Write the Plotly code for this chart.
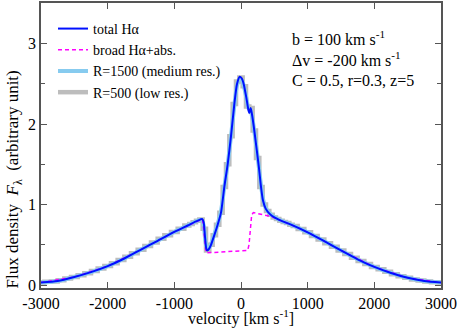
import plotly.graph_objects as go

# ---- data ----
vel_total = [-3000, -2750, -2500, -2250, -2000, -1750, -1500, -1250, -1000, -800, -650, -580,
             -560, -540, -520, -505, -480, -450, -400, -350, -300, -250, -200, -150, -100,
             -60, -20, 10, 40, 80, 110, 125, 145, 165, 190, 230, 270, 300, 330, 370, 430,
             500, 600, 750, 1000, 1250, 1500, 1750, 2000, 2250, 2500, 2750, 3000]
flux_total = [0.03, 0.05, 0.10, 0.16, 0.235, 0.33, 0.44, 0.55, 0.66, 0.74, 0.80, 0.82,
              0.78, 0.60, 0.45, 0.43, 0.45, 0.50, 0.62, 0.75, 0.90, 1.22, 1.50, 1.85, 2.25,
              2.50, 2.59, 2.57, 2.50, 2.33, 2.18, 2.14, 2.20, 2.12, 1.98, 1.72, 1.45, 1.22, 1.05,
              0.95, 0.885, 0.84, 0.80, 0.75, 0.655, 0.545, 0.43, 0.32, 0.225, 0.15, 0.09, 0.05, 0.03]

vel_broad = [-3000, -2500, -2000, -1500, -1000, -800, -650, -580, -560, -540, -525, -300, -100,
             100, 120, 140, 160, 185, 250, 350, 460, 600, 750, 1000, 1500, 2000, 2500, 3000]
flux_broad = [0.03, 0.10, 0.235, 0.44, 0.66, 0.74, 0.80, 0.82, 0.70, 0.50, 0.40, 0.41, 0.42,
              0.43, 0.50, 0.75, 0.87, 0.90, 0.89, 0.87, 0.85, 0.80, 0.75, 0.655, 0.43, 0.225, 0.09, 0.03]

vel_r1500 = [-3000, -2750, -2500, -2250, -2000, -1750, -1500, -1250, -1000, -800, -650, -590,
             -560, -530, -505, -480, -450, -400, -350, -300, -250, -200, -150, -100,
             -60, -20, 10, 40, 80, 110, 140, 165, 190, 230, 270, 300, 330, 370, 430,
             500, 600, 750, 1000, 1250, 1500, 1750, 2000, 2250, 2500, 2750, 3000]
flux_r1500 = [0.03, 0.05, 0.10, 0.16, 0.235, 0.33, 0.44, 0.55, 0.66, 0.74, 0.80, 0.81,
              0.74, 0.52, 0.45, 0.46, 0.51, 0.63, 0.76, 0.92, 1.22, 1.50, 1.85, 2.23,
              2.48, 2.56, 2.55, 2.48, 2.33, 2.20, 2.18, 2.10, 1.97, 1.72, 1.45, 1.24, 1.07,
              0.96, 0.89, 0.845, 0.80, 0.75, 0.655, 0.545, 0.43, 0.32, 0.225, 0.15, 0.09, 0.05, 0.03]

vel_r500 = [-3000, -2900, -2800, -2700, -2600, -2500, -2400, -2300, -2200, -2100, -2000,
            -1900, -1800, -1700, -1600, -1500, -1400, -1300, -1200, -1100, -1000, -900,
            -800, -750, -700, -650, -600, -550, -500, -450, -400, -350, -300, -250, -200,
            -150, -100, -50, 0, 50, 100, 150, 200, 250, 300, 350, 400, 450, 500, 550, 600,
            650, 700, 750, 800,
            900, 1000, 1100, 1200, 1300, 1400, 1500, 1600, 1700, 1800, 1900, 2000,
            2100, 2200, 2300, 2400, 2500, 2600, 2700, 2800, 2900, 3000]
flux_r500 = [0.03, 0.04, 0.045, 0.06, 0.08, 0.10, 0.12, 0.145, 0.175, 0.205, 0.235,
             0.27, 0.31, 0.35, 0.395, 0.44, 0.485, 0.53, 0.575, 0.62, 0.66, 0.70,
             0.74, 0.76, 0.78, 0.80, 0.815, 0.70, 0.43, 0.50, 0.62, 0.75, 0.90, 1.22, 1.50,
             1.85, 2.25, 2.53, 2.58, 2.47, 2.22, 2.20, 1.92, 1.58, 1.22, 1.00, 0.92, 0.875, 0.84, 0.82, 0.80,
             0.785, 0.77, 0.75, 0.735,
             0.695, 0.655, 0.61, 0.565, 0.52, 0.475, 0.43, 0.385, 0.34, 0.30, 0.26, 0.225,
             0.195, 0.165, 0.135, 0.11, 0.09, 0.07, 0.055, 0.045, 0.035, 0.03]

x_ticks = [-3000, -2000, -1000, 0, 1000, 2000, 3000]
y_ticks = [0, 1, 2, 3]

FONT = "Liberation Serif, DejaVu Serif, Times New Roman, serif"

fig = go.Figure()
fig.add_trace(go.Scatter(x=vel_r500, y=flux_r500, mode="lines", line_shape="hvh",
                         line=dict(color="#bdbdbd", width=4.5),
                         name="R=500 (low res.)", legendrank=4))
fig.add_trace(go.Scatter(x=vel_r1500, y=flux_r1500, mode="lines", line_shape="spline",
                         line=dict(color="#87cbef", width=4, smoothing=0.6),
                         name="R=1500 (medium res.)", legendrank=3))
fig.add_trace(go.Scatter(x=vel_broad, y=flux_broad, mode="lines",
                         line=dict(color="#ff00ff", width=1.5, dash="4px,3px"),
                         name="broad Hα+abs.", legendrank=2))
fig.add_trace(go.Scatter(x=vel_total, y=flux_total, mode="lines", line_shape="spline",
                         line=dict(color="#0010ff", width=2, smoothing=0.6),
                         name="total Hα", legendrank=1))

axis_common = dict(
    showgrid=False, zeroline=False, showline=True, linecolor="#555555", linewidth=1.5,
    mirror="ticks", ticks="inside", ticklen=6, tickwidth=1, tickcolor="#555555",
    tickfont=dict(family=FONT, size=16, color="black"),
)

fig.update_xaxes(range=[-3000, 3000], tickvals=x_ticks,
                 ticktext=[str(v) for v in x_ticks],
                 title=dict(text="velocity [km s<sup>-1</sup>]",
                            font=dict(family=FONT, size=16, color="black"), standoff=3),
                 **axis_common)
fig.update_yaxes(range=[-0.037, 3.506], tickvals=y_ticks,
                 minor=dict(tickvals=[0.5, 1.5, 2.5, 3.5], ticks="inside", ticklen=4,
                            tickcolor="#555555"),
                 **axis_common)

fig.add_annotation(xref="paper", yref="paper", x=-0.068, y=0.38,
                   text="Flux density  <i>F</i><sub>λ</sub>  (arbitrary unit)",
                   textangle=-90, showarrow=False, xanchor="center", yanchor="middle",
                   font=dict(family=FONT, size=17, color="black"))

fig.add_annotation(xref="paper", yref="paper", x=(290 - 41) / 400, y=1 - (24 - 1) / 287,
                   text="b = 100 km s<sup>-1</sup><br>Δv = -200 km s<sup>-1</sup><br>C = 0.5, r=0.3, z=5",
                   showarrow=False, xanchor="left", yanchor="top", align="left",
                   font=dict(family=FONT, size=16, color="black"))

fig.update_layout(
    width=458, height=328,
    margin=dict(l=41, r=17, t=1, b=40),
    paper_bgcolor="white", plot_bgcolor="white",
    showlegend=True,
    font=dict(family=FONT),
    legend=dict(x=0.03, y=0.965, xanchor="left", yanchor="top",
                bgcolor="rgba(0,0,0,0)", font=dict(family=FONT, size=14, color="black"),
                tracegroupgap=0, itemwidth=30),
)

fig.write_html("out.html", config={"displayModeBar": False},
               post_script="document.body.style.margin='0';")
